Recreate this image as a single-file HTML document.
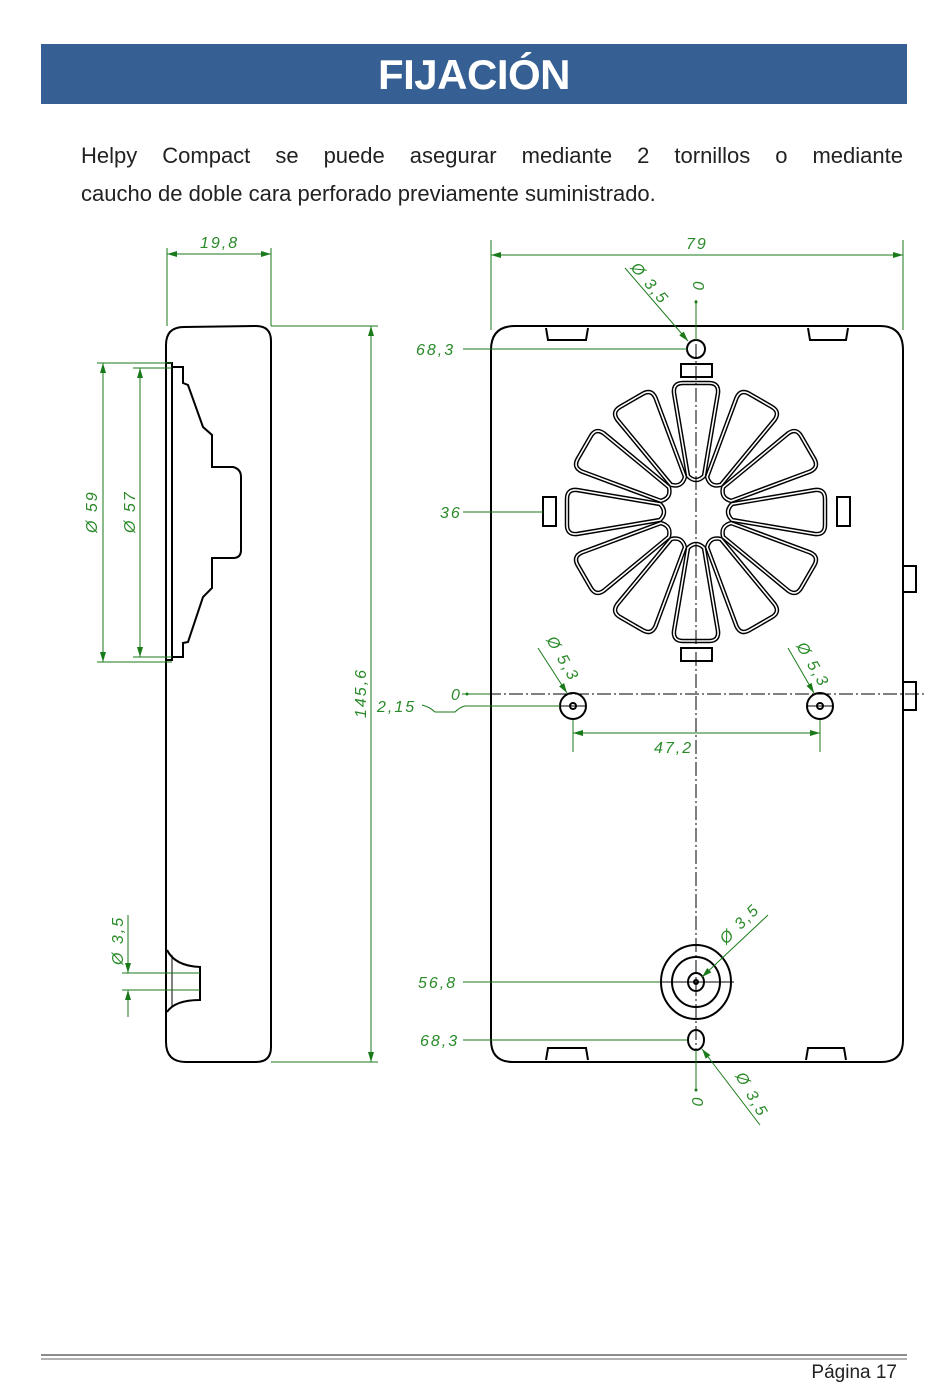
<!DOCTYPE html>
<html><head><meta charset="utf-8"><style>
body{margin:0;background:#fff;width:950px;height:1397px;overflow:hidden;position:relative;font-family:"Liberation Sans",sans-serif}
.hdr{position:absolute;left:41px;top:44px;width:866px;height:60px;background:#365f93;color:#fff;font-weight:bold;font-size:42px;text-align:center;line-height:62px;letter-spacing:-0.5px}
.p1,.p2{position:absolute;left:81px;width:822px;font-size:22px;color:#222;white-space:nowrap}
.p1{top:143px;text-align:justify;text-align-last:justify;white-space:normal}
.p2{top:181px}
.ft{position:absolute;right:53px;top:1362px;font-size:19px;color:#222}
svg{position:absolute;left:0;top:0}
.g{stroke:#1a7a1a;stroke-width:1;fill:none}
.t{fill:#2a8a2a;font-size:16px;font-style:italic;font-family:"Liberation Sans",sans-serif;letter-spacing:2px}
.k{stroke:#000;fill:none;stroke-width:2}
.c{stroke:#000;stroke-width:1;stroke-dasharray:14 3 2 3;fill:none}
</style></head><body>
<div class="hdr">FIJACIÓN</div>
<div class="p1">Helpy Compact se puede asegurar mediante 2 tornillos o mediante</div>
<div class="p2">caucho de doble cara perforado previamente suministrado.</div>
<svg width="950" height="1397" viewBox="0 0 950 1397">
<defs>
<path id="pt" d="M -8,-36 L -22,-119 Q -23,-129 -13,-129 L 13,-129 Q 23,-129 22,-119 L 8,-36 Q 0,-28 -8,-36 Z"/>
<marker id="a" viewBox="0 0 10 6" refX="10" refY="3" markerWidth="10" markerHeight="6" orient="auto-start-reverse" markerUnits="userSpaceOnUse"><path d="M0,0 L10,3 L0,6 Z" fill="#1a7a1a"/></marker>
</defs>
<line x1="41" y1="1355" x2="907" y2="1355" stroke="#666" stroke-width="1.5"/>
<line x1="41" y1="1359" x2="907" y2="1359" stroke="#666" stroke-width="1"/>

<path class="k" d="M166,1042 L166,345 Q166,327 184,327 L256,326 Q271,326 271,341 L271,1047 Q271,1062 256,1062 L186,1062 Q166,1062 166,1042 Z"/>
<rect x="166" y="363" width="6" height="297" class="k" stroke-width="1.5"/>
<path class="k" d="M172,367 L183,367 L183,383 L188,385 L203,427 L212,435 L212,467 L233,467 Q241,469 241,477 L241,550 Q241,558 233,558 L212,558 L212,588 L203,597 L188,642 L183,643 L183,657 L172,657"/>
<path class="k" stroke-width="1.5" d="M167,950 Q175,966 200,967 L200,1000 Q175,1000 167,1012"/>
<line x1="172" y1="955" x2="172" y2="1007" stroke="#000"/>
<line class="g" x1="167" y1="248" x2="167" y2="326"/>
<line class="g" x1="271" y1="248" x2="271" y2="326"/>
<line class="g" x1="167" y1="254" x2="271" y2="254" marker-start="url(#a)" marker-end="url(#a)"/>
<text class="t" x="200" y="248">19,8</text>
<line class="g" x1="271" y1="326" x2="378" y2="326"/>
<line class="g" x1="271" y1="1062" x2="378" y2="1062"/>
<line class="g" x1="371" y1="326" x2="371" y2="1062" marker-start="url(#a)" marker-end="url(#a)"/>
<text class="t" transform="translate(366,718) rotate(-90)">145,6</text>
<line class="g" x1="97" y1="363" x2="172" y2="363"/>
<line class="g" x1="97" y1="662" x2="172" y2="662"/>
<line class="g" x1="103" y1="363" x2="103" y2="662" marker-start="url(#a)" marker-end="url(#a)"/>
<text class="t" transform="translate(97,533) rotate(-90)">Ø 59</text>
<line class="g" x1="133" y1="368" x2="172" y2="368"/>
<line class="g" x1="133" y1="657" x2="172" y2="657"/>
<line class="g" x1="140" y1="368" x2="140" y2="657" marker-start="url(#a)" marker-end="url(#a)"/>
<text class="t" transform="translate(135,533) rotate(-90)">Ø 57</text>
<line class="g" x1="122" y1="973" x2="200" y2="973"/>
<line class="g" x1="122" y1="990" x2="200" y2="990"/>
<line class="g" x1="128" y1="915" x2="128" y2="973" marker-end="url(#a)"/>
<line class="g" x1="128" y1="1017" x2="128" y2="990" marker-end="url(#a)"/>
<text class="t" transform="translate(123,965) rotate(-90)">Ø 3,5</text>

<path class="k" d="M491,1040 L491,350 Q491,326 515,326 L880,326 Q903,326 903,350 L903,1040 Q903,1062 881,1062 L513,1062 Q491,1062 491,1040 Z"/>
<path class="k" stroke-width="1.8" d="M546,328 L548,340 L586,340 L588,328 M808,328 L810,340 L846,340 L848,328"/>
<path class="k" stroke-width="1.8" d="M546,1060 L548,1048 L586,1048 L588,1060 M806,1060 L808,1048 L844,1048 L846,1060"/>
<rect x="903" y="566" width="13" height="26" class="k"/>
<rect x="903" y="682" width="13" height="28" class="k"/>
<rect x="681" y="364" width="31" height="13" class="k"/>
<rect x="681" y="648" width="31" height="13" class="k"/>
<rect x="543" y="497" width="13" height="29" class="k"/>
<rect x="837" y="497" width="13" height="29" class="k"/>
<circle cx="696" cy="349" r="9" class="k" stroke-width="1.5"/>
<ellipse cx="696" cy="1040" rx="8" ry="10" class="k" stroke-width="1.5"/>
<g transform="translate(696,512)" fill="none">
<g stroke="#000" stroke-width="4.5">
<use href="#pt"/><use href="#pt" transform="rotate(30)"/><use href="#pt" transform="rotate(60)"/><use href="#pt" transform="rotate(90)"/><use href="#pt" transform="rotate(120)"/><use href="#pt" transform="rotate(150)"/><use href="#pt" transform="rotate(180)"/><use href="#pt" transform="rotate(210)"/><use href="#pt" transform="rotate(240)"/><use href="#pt" transform="rotate(270)"/><use href="#pt" transform="rotate(300)"/><use href="#pt" transform="rotate(330)"/>
</g>
<g stroke="#fff" stroke-width="1.6">
<use href="#pt"/><use href="#pt" transform="rotate(30)"/><use href="#pt" transform="rotate(60)"/><use href="#pt" transform="rotate(90)"/><use href="#pt" transform="rotate(120)"/><use href="#pt" transform="rotate(150)"/><use href="#pt" transform="rotate(180)"/><use href="#pt" transform="rotate(210)"/><use href="#pt" transform="rotate(240)"/><use href="#pt" transform="rotate(270)"/><use href="#pt" transform="rotate(300)"/><use href="#pt" transform="rotate(330)"/>
</g>
</g>
<line class="c" x1="696" y1="300" x2="696" y2="1090"/>
<line class="c" x1="465" y1="694" x2="925" y2="694"/>
<circle cx="573" cy="706" r="13" class="k" stroke-width="1.8"/>
<circle cx="573" cy="706" r="3" class="k" stroke-width="1.2"/>
<line x1="560" y1="706" x2="586" y2="706" stroke="#000"/>
<circle cx="820" cy="706" r="13" class="k" stroke-width="1.8"/>
<circle cx="820" cy="706" r="3" class="k" stroke-width="1.2"/>
<line x1="807" y1="706" x2="833" y2="706" stroke="#000"/>
<ellipse cx="696" cy="982" rx="35" ry="37" class="k" stroke-width="1.3"/>
<ellipse cx="696" cy="982" rx="24" ry="25" class="k" stroke-width="1.3"/>
<ellipse cx="696" cy="982" rx="8" ry="9" class="k" stroke-width="1.8"/>
<circle cx="696" cy="982" r="2" class="k" stroke-width="1"/>
<line x1="658" y1="982" x2="734" y2="982" stroke="#000"/>
<line class="g" x1="491" y1="240" x2="491" y2="330"/>
<line class="g" x1="903" y1="240" x2="903" y2="330"/>
<line class="g" x1="491" y1="255" x2="903" y2="255" marker-start="url(#a)" marker-end="url(#a)"/>
<text class="t" x="686" y="249">79</text>
<line class="g" x1="625" y1="268" x2="688" y2="341" marker-end="url(#a)"/>
<text class="t" transform="translate(630,268) rotate(50)">Ø 3,5</text>
<line class="g" x1="696" y1="300" x2="696" y2="340"/>
<circle cx="696" cy="302" r="1.5" fill="#1a7a1a"/>
<text class="t" transform="translate(693,281) rotate(90)">0</text>
<line class="g" x1="463" y1="349" x2="687" y2="349"/>
<text class="t" x="416" y="355">68,3</text>
<line class="g" x1="463" y1="512" x2="543" y2="512"/>
<text class="t" x="440" y="518">36</text>
<line class="g" x1="462" y1="694" x2="490" y2="694"/>
<circle cx="467" cy="694" r="1.5" fill="#1a7a1a"/>
<text class="t" x="451" y="700">0</text>
<path class="g" d="M422,705 Q430,707 435,712 L455,712 Q460,707 465,706 L560,706"/>
<text class="t" x="377" y="712">2,15</text>
<line class="g" x1="573" y1="720" x2="573" y2="752"/>
<line class="g" x1="820" y1="720" x2="820" y2="752"/>
<line class="g" x1="573" y1="733" x2="820" y2="733" marker-start="url(#a)" marker-end="url(#a)"/>
<text class="t" x="654" y="753">47,2</text>
<line class="g" x1="538" y1="648" x2="567" y2="693" marker-end="url(#a)"/>
<text class="t" transform="translate(546,640) rotate(60)">Ø 5,3</text>
<line class="g" x1="788" y1="648" x2="814" y2="693" marker-end="url(#a)"/>
<text class="t" transform="translate(796,646) rotate(60)">Ø 5,3</text>
<line class="g" x1="768" y1="915" x2="702" y2="977" marker-end="url(#a)"/>
<text class="t" transform="translate(726,945) rotate(-45)">Ø 3,5</text>
<line class="g" x1="463" y1="982" x2="660" y2="982"/>
<text class="t" x="418" y="988">56,8</text>
<line class="g" x1="463" y1="1040" x2="687" y2="1040"/>
<text class="t" x="420" y="1046">68,3</text>
<line class="g" x1="760" y1="1125" x2="702" y2="1049" marker-end="url(#a)"/>
<text class="t" transform="translate(735,1076) rotate(60)">Ø 3,5</text>
<line class="g" x1="696" y1="1050" x2="696" y2="1090"/>
<circle cx="696" cy="1090" r="1.5" fill="#1a7a1a"/>
<text class="t" transform="translate(692,1097) rotate(90)">0</text>
</svg>
<div class="ft">Página 17</div>
</body></html>
